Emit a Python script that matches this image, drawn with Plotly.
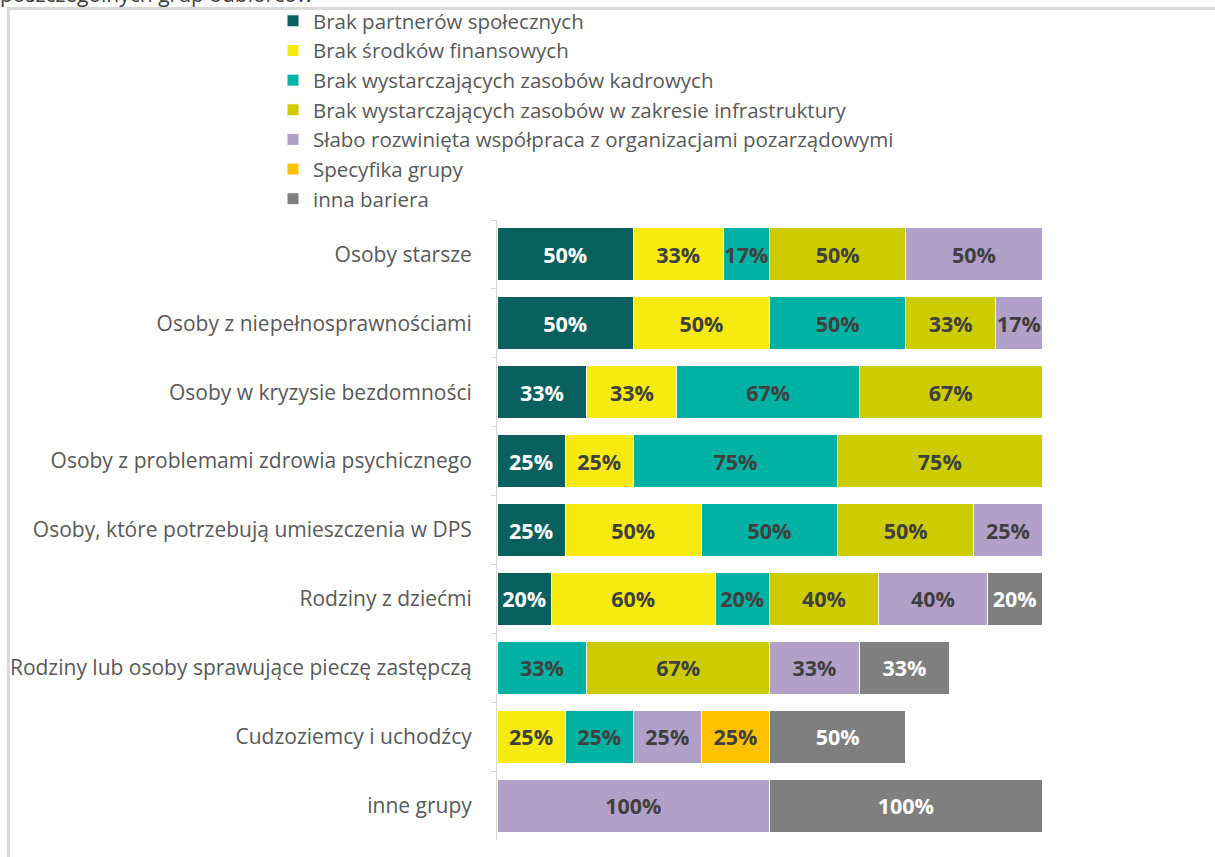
import plotly.graph_objects as go

# Target groups (rows, top to bottom)
groups = [
    "Osoby starsze",
    "Osoby z niepełnosprawnościami",
    "Osoby w kryzysie bezdomności",
    "Osoby z problemami zdrowia psychicznego",
    "Osoby, które potrzebują umieszczenia w DPS",
    "Rodziny z dziećmi",
    "Rodziny lub osoby sprawujące pieczę zastępczą",
    "Cudzoziemcy i uchodźcy",
    "inne grupy",
]

# Barriers (series), in legend order
barriers = [
    "Brak partnerów społecznych",
    "Brak środków finansowych",
    "Brak wystarczających zasobów kadrowych",
    "Brak wystarczających zasobów w zakresie infrastruktury",
    "Słabo rozwinięta współpraca z organizacjami pozarządowymi",
    "Specyfika grupy",
    "inna bariera",
]

# Share of respondents (%) per group; None = not reported
partnerzy = [50, 50, 33, 25, 25, 20, None, None, None]
finanse = [33, 50, 33, 25, 50, 60, None, 25, None]
kadry = [17, 50, 67, 75, 50, 20, 33, 25, None]
infrastruktura = [50, 33, 67, 75, 50, 40, 67, None, None]
ngo = [50, 17, None, None, 25, 40, 33, 25, 100]
specyfika = [None, None, None, None, None, None, None, 25, None]
inna = [None, None, None, None, None, 20, 33, 50, 100]

series = [partnerzy, finanse, kadry, infrastruktura, ngo, specyfika, inna]

colors = ["#0A5F5F", "#F7EA10", "#00B2A3", "#CCCC00", "#B1A0C7", "#FFC000", "#7F7F7F"]
label_colors = ["#FFFFFF", "#404040", "#404040", "#404040", "#404040", "#404040", "#FFFFFF"]

FONT = "Open Sans"
GREY_TEXT = "#595959"
LEGEND_SIZE = 20.5
TICK_SIZE = 21
LABEL_SIZE = 21.5

fig = go.Figure()
for i, (name, vals) in enumerate(zip(barriers, series)):
    fig.add_trace(go.Bar(
        y=groups,
        x=vals,
        name=name,
        orientation="h",
        legendgroup=f"g{i}",
        marker=dict(color=colors[i], line=dict(color="#FFFFFF", width=1)),
        text=[f"{v:.0f}%" if v is not None else "" for v in vals],
        textposition="inside",
        insidetextanchor="middle",
        textangle=0,
        textfont=dict(family=FONT, size=LABEL_SIZE, color=label_colors[i], weight="bold"),
        hoverinfo="skip",
    ))

# Plot area geometry in pixels
W, H = 1215, 857
L, R, T, B = 497, 173, 220, 17
pw, ph = W - L - R, H - T - B

def px_x(x):
    return (x - L) / pw

def px_y(y):
    return (H - B - y) / ph

fig.update_layout(
    width=W,
    height=H,
    margin=dict(l=L, r=R, t=T, b=B, pad=0, autoexpand=False),
    barmode="stack",
    bargap=0.23,
    plot_bgcolor="#FFFFFF",
    paper_bgcolor="#FFFFFF",
    font=dict(family=FONT, color=GREY_TEXT, size=TICK_SIZE),
    uniformtext=dict(mode="show", minsize=LABEL_SIZE),
    showlegend=True,
    legend=dict(
        x=px_x(273),
        xanchor="left",
        yref="container",
        y=1 - 1 / H,
        yanchor="top",
        traceorder="grouped",
        tracegroupgap=0,
        font=dict(family=FONT, size=LEGEND_SIZE, color=GREY_TEXT),
        bgcolor="rgba(0,0,0,0)",
        itemclick=False,
    ),
    xaxis=dict(
        range=[0, 200],
        visible=False,
        fixedrange=True,
    ),
    yaxis=dict(
        type="category",
        categoryorder="array",
        categoryarray=groups,
        autorange="reversed",
        automargin=False,
        showline=True,
        linecolor="#D9D9D9",
        linewidth=1,
        ticks="outside",
        tickson="boundaries",
        ticklen=5,
        tickcolor="#D9D9D9",
        ticklabelstandoff=20,
        tickfont=dict(family=FONT, size=TICK_SIZE, color=GREY_TEXT),
        showgrid=False,
        fixedrange=True,
    ),
)

# Chart frame (top and left border)
fig.add_shape(type="line", xref="paper", yref="paper",
              x0=px_x(7), x1=px_x(W + 5), y0=px_y(8.5), y1=px_y(8.5),
              line=dict(color="#D9D9D9", width=3))
fig.add_shape(type="line", xref="paper", yref="paper",
              x0=px_x(8.5), x1=px_x(8.5), y0=px_y(7), y1=px_y(H + 5),
              line=dict(color="#D9D9D9", width=3))

# Title line, partly above the frame
fig.add_annotation(
    text="poszczególnych grup odbiorców",
    xref="paper", yref="paper",
    x=px_x(-2), y=px_y(-6),
    xanchor="left", yanchor="middle",
    showarrow=False,
    font=dict(family=FONT, size=TICK_SIZE, color="#404040"),
)

fig.write_html("out.html")
